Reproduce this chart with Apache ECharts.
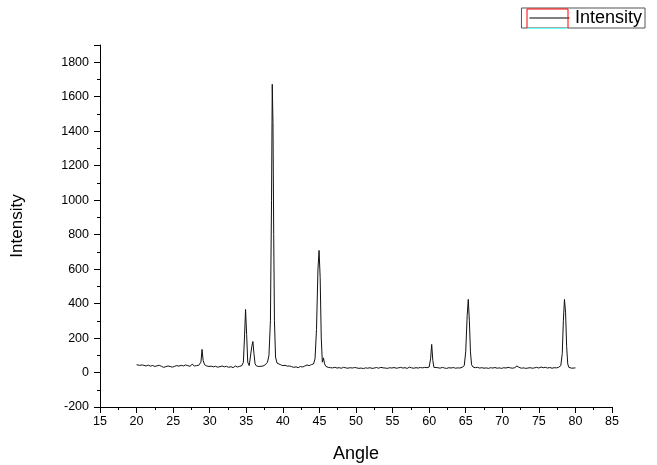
<!DOCTYPE html>
<html><head><meta charset="utf-8">
<script src="https://cdn.jsdelivr.net/npm/echarts@6/dist/echarts.min.js"></script>
<style>html,body{margin:0;padding:0;background:#fff}#c{width:657px;height:465px}</style>
</head><body><div id="c"></div>
<script>
const angles = [20.0,20.2,20.4,20.6,20.8,21.0,21.3,21.6,21.9,22.2,22.5,22.8,23.1,23.4,23.7,24.0,24.3,24.6,24.9,25.2,25.5,25.8,26.1,26.4,26.7,27.0,27.3,27.6,27.9,28.2,28.5,28.8,28.95,29.1,29.3,29.6,29.9,30.2,30.5,30.8,31.1,31.4,31.7,32.0,32.3,32.6,32.9,33.2,33.5,33.8,34.1,34.4,34.6,34.75,34.9,35.05,35.2,35.4,35.6,35.75,35.9,36.05,36.2,36.4,36.7,37.0,37.3,37.6,37.9,38.1,38.3,38.45,38.55,38.65,38.75,38.85,39.0,39.2,39.4,39.7,40.0,40.3,40.6,40.9,41.2,41.5,41.8,42.1,42.4,42.7,43.0,43.3,43.6,43.9,44.2,44.4,44.6,44.8,44.95,45.1,45.25,45.4,45.55,45.7,45.9,46.2,46.5,46.8,47.1,47.4,47.7,48.0,48.3,48.6,48.9,49.2,49.5,49.8,50.1,50.4,50.7,51.0,51.3,51.6,51.9,52.2,52.5,52.8,53.1,53.4,53.7,54.0,54.3,54.6,54.9,55.2,55.5,55.8,56.1,56.4,56.7,57.0,57.3,57.6,57.9,58.2,58.5,58.8,59.1,59.4,59.7,60.0,60.2,60.35,60.5,60.65,60.9,61.2,61.5,61.8,62.1,62.4,62.7,63.0,63.3,63.6,63.9,64.2,64.5,64.8,65.0,65.2,65.35,65.5,65.65,65.8,66.0,66.3,66.6,66.9,67.2,67.5,67.8,68.1,68.4,68.7,69.0,69.3,69.6,69.9,70.2,70.5,70.8,71.1,71.4,71.7,72.0,72.3,72.6,72.9,73.2,73.5,73.8,74.1,74.4,74.7,75.0,75.3,75.6,75.9,76.2,76.5,76.8,77.1,77.4,77.7,78.0,78.2,78.35,78.5,78.65,78.8,78.95,79.1,79.3,79.5,79.7,80.0];
const intensity = [45,40,42,36,44,40,38,43,37,41,35,39,42,36,30,34,38,35,31,36,40,37,42,38,44,40,36,48,38,40,42,60,134,70,45,38,35,37,33,36,31,34,38,33,36,30,34,28,38,32,36,40,60,200,366,220,60,40,50,150,180,110,50,38,35,36,38,45,60,100,300,1000,1672,1450,800,300,90,55,48,45,40,42,37,38,34,30,33,28,35,32,38,44,40,46,50,80,250,600,708,550,200,60,85,50,35,30,28,27,30,26,28,25,30,27,25,28,26,29,27,24,26,23,27,25,28,24,26,29,25,30,27,26,24,28,26,29,25,27,30,26,28,24,31,27,25,28,26,29,27,30,28,32,80,163,70,30,26,28,25,30,26,24,28,26,29,25,27,26,30,40,120,330,424,300,120,45,32,28,30,26,28,25,27,24,28,26,29,25,27,24,28,26,30,27,25,28,38,30,25,27,24,26,28,25,27,30,26,32,28,30,26,29,25,28,27,30,40,110,300,424,350,150,50,30,36,25,28,27];
const seriesName = 'Intensity';
const xTitle = 'Angle';
const yTitle = 'Intensity';

const chart = echarts.init(document.getElementById('c'), null, {renderer: 'canvas'});
const font = 'Arial, "Liberation Sans", sans-serif';
chart.setOption({
  animation: false,
  backgroundColor: '#fff',
  textStyle: {fontFamily: font, color: '#000'},
  grid: {left: 100, right: 45, top: 45, bottom: 58, containLabel: false, outerBoundsMode: 'none'},
  legend: {
    right: 12, top: 8,
    data: [{name: seriesName, icon: 'path://M0,0 L40,0 L40,1 L0,1 Z'}],
    itemWidth: 41, itemHeight: 1, itemGap: 4,
    padding: [1, 3, 1, 8],
    borderColor: '#555', borderWidth: 1,
    textStyle: {fontSize: 18, color: '#000', fontFamily: font, padding: [0,0,0,0]}
  },
  xAxis: {
    type: 'value', min: 15, max: 85, interval: 5,
    name: xTitle, nameLocation: 'middle', nameGap: 38,
    nameTextStyle: {fontSize: 18, color: '#000', fontFamily: font},
    axisLine: {show: true, onZero: false, lineStyle: {color: '#000', width: 1}},
    axisTick: {show: true, inside: false, length: 6, lineStyle: {color: '#000'}},
    minorTick: {show: true, splitNumber: 2, length: 3, lineStyle: {color: '#000'}},
    axisLabel: {fontSize: 12.5, color: '#000', margin: 8, fontFamily: font},
    splitLine: {show: false}
  },
  yAxis: {
    type: 'value', min: -200, max: 1900, interval: 200,
    name: yTitle, nameLocation: 'middle', nameGap: 74, nameRotate: 90,
    nameTextStyle: {fontSize: 17, color: '#000', fontFamily: font},
    axisLine: {show: true, onZero: false, lineStyle: {color: '#000', width: 1}},
    axisTick: {show: true, inside: false, length: 6, lineStyle: {color: '#000'}},
    minorTick: {show: true, splitNumber: 2, length: 3, lineStyle: {color: '#000'}},
    axisLabel: {fontSize: 12.5, color: '#000', margin: 11, fontFamily: font,
      formatter: v => (v > 1800 ? '' : String(v))},
    splitLine: {show: false}
  },
  series: [{
    name: seriesName, type: 'line', showSymbol: false, symbol: 'none',
    data: angles.map((a, i) => [a, intensity[i]]),
    lineStyle: {color: '#111', width: 1},
    itemStyle: {color: '#000'}
  }],
  graphic: [
    {type: 'polyline', shape: {points: [[527, 28], [527, 9], [568, 9], [568, 28]]}, style: {stroke: '#ff0000', fill: null, lineWidth: 1}, z: 100},
    {type: 'line', shape: {x1: 527, y1: 28.5, x2: 568, y2: 28.5}, style: {stroke: '#66ffff', lineWidth: 1}, z: 100}
  ]
});
</script></body></html>
